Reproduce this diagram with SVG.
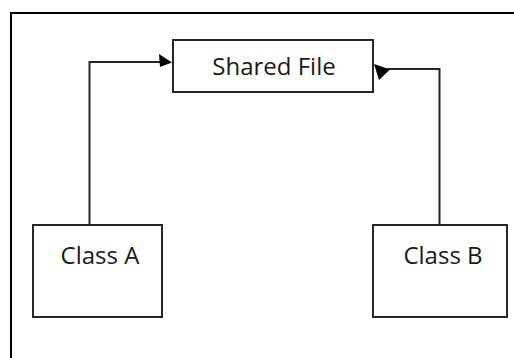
<svg xmlns="http://www.w3.org/2000/svg" width="514" height="358" viewBox="0 0 514 358">
  <style>
    .box { fill: #ffffff; stroke: #262626; stroke-width: 2; }
    .label { font-family: "Open Sans", "Liberation Sans", sans-serif; font-size: 24px; fill: #1a1a1a; text-anchor: middle; }
    .wire { fill: none; stroke: #262626; stroke-width: 2; }
    .head { fill: #000000; stroke: none; }
  </style>
  <rect x="0" y="0" width="514" height="358" fill="#ffffff"/>
  <!-- page frame, clipped at right and bottom -->
  <path d="M 11 358 L 11 13 L 514 13" fill="none" stroke="#000000" stroke-width="2"/>

  <g id="connectors">
    <path class="wire" d="M 89.5 225 L 89.5 62 L 162 62"/>
    <polygon class="head" points="172,62.5 159,54 160,67"/>
    <path class="wire" d="M 439.5 225 L 439.5 69 L 384 69"/>
    <polygon class="head" points="374,64 390,69.5 379,80"/>
  </g>

  <g id="shared-file">
    <rect class="box" x="173" y="40" width="200" height="52"/>
    <text class="label" x="274" y="75">Shared File</text>
  </g>

  <g id="class-a">
    <rect class="box" x="33" y="225" width="129" height="92"/>
    <text class="label" x="100" y="264">Class A</text>
  </g>

  <g id="class-b">
    <rect class="box" x="373" y="225" width="134" height="92"/>
    <text class="label" x="443" y="264">Class B</text>
  </g>
</svg>
